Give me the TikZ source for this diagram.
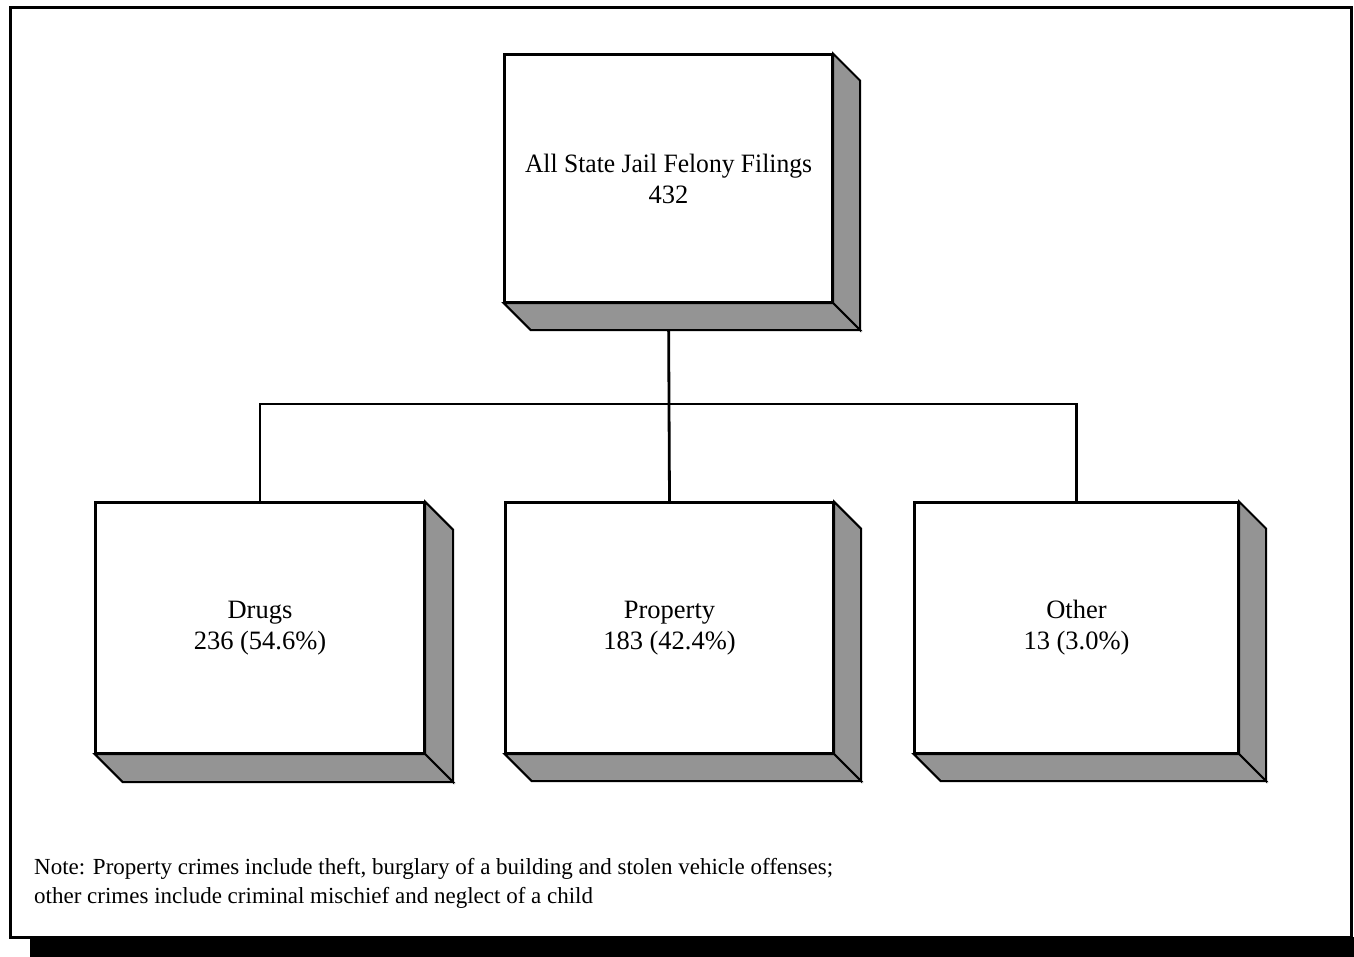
\documentclass[tikz,border=0pt]{standalone}
\usepackage{fontspec}
\setmainfont{Liberation Serif}
\begin{document}
\begin{tikzpicture}[x=1pt,y=-1pt,
  box/.style={draw,line width=2.4pt,fill=white,inner sep=0pt,align=center,
    font=\fontsize{26.5}{31}\selectfont},
  shade3d/.style={draw,line width=2pt,fill=black!42,line join=miter},
  link/.style={line width=2.8pt},
  frame/.style={line width=3pt}]
\useasboundingbox (0,0) rectangle (1354,957);
\fill[white] (0,0) rectangle (1354,957);
% outer frame and its dark band
\fill[black] (30,937) rectangle (1354,957);
\draw[frame] (10,8) rectangle (1351,937);
% nodes (placed first so connectors can use them)
\node[box,minimum width=327pt,minimum height=247pt] (top) at (668.5,178.5)
  {\scalebox{0.965}[1]{All State Jail Felony Filings}\\432};
\node[box,minimum width=328pt,minimum height=250pt] (drugs) at (260,628) {Drugs\\236 (54.6\%)};
\node[box,minimum width=327pt,minimum height=250pt] (prop) at (669.5,628) {Property\\183 (42.4\%)};
\node[box,minimum width=323pt,minimum height=250pt] (other) at (1076.5,628) {Other\\13 (3.0\%)};
% connectors
\coordinate (bar) at (669,404);
\draw[link] (top.south) -- (bar);
\draw[link] (drugs.north) |- (bar) -| (other.north);
\draw[link] (bar) -- (prop.north);
% 3D shadows
\foreach \n/\d in {top/27,drugs/28,prop/27,other/27}{
  \draw[shade3d] (\n.north east) -- ++(\d,\d) -- ([shift={(\d,\d)}]\n.south east) -- (\n.south east) -- cycle;
  \draw[shade3d] (\n.south west) -- (\n.south east) -- ++(\d,\d) -- ([shift={(\d,\d)}]\n.south west) -- cycle;
}
% redraw fronts on top
\foreach \n in {top,drugs,prop,other}{
  \draw[line width=2.4pt] (\n.north west) rectangle (\n.south east);
}
% note
\node[anchor=west,align=left,inner sep=0pt,font=\fontsize{23}{29}\selectfont] (note) at (34,883)
  {Note: Property crimes include theft, burglary of a building and stolen vehicle offenses;\\
   other crimes include criminal mischief and neglect of a child};
\end{tikzpicture}
\end{document}
